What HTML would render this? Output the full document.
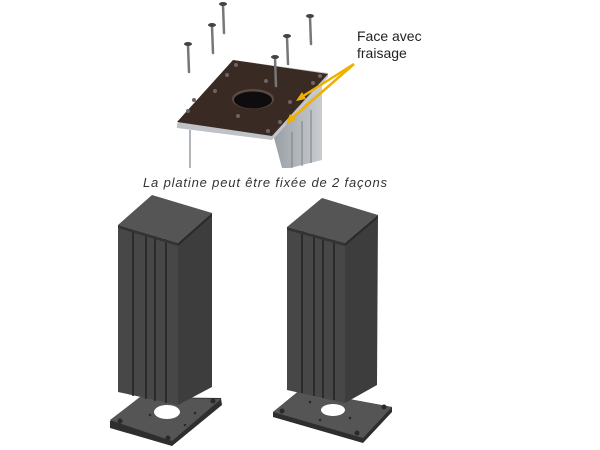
<!DOCTYPE html>
<html><head><style>
html,body{margin:0;padding:0;background:#fff;width:600px;height:450px;overflow:hidden}
svg{display:block}
</style></head><body>
<svg width="600" height="450" viewBox="0 0 600 450" xmlns="http://www.w3.org/2000/svg">
<defs>
<linearGradient id="col" x1="0" x2="1"><stop offset="0" stop-color="#9aa0a6"/><stop offset="1" stop-color="#c9cdd1"/></linearGradient>
</defs>
<!-- top assembly column -->
<polygon points="274,138 322,84 322,160 290,168 282,168" fill="url(#col)"/>
<line x1="292" y1="132" x2="292" y2="168" stroke="#7a7f85"/>
<line x1="302" y1="121" x2="302" y2="166" stroke="#7a7f85"/>
<line x1="311" y1="110" x2="311" y2="163" stroke="#7a7f85"/>
<line x1="190" y1="130" x2="190" y2="168" stroke="#b0b5ba" stroke-width="2"/>
<!-- plate -->
<polygon points="177,124 233,60 328,73 328,77 272,140 177,128" fill="#bfc3c7"/>
<polygon points="177,122 233,60 328,74 272,136" fill="#3a2a24"/>
<ellipse cx="253" cy="99" rx="21" ry="10" fill="#5a4a44"/>
<ellipse cx="253" cy="100" rx="19" ry="8.5" fill="#0e0c0c"/>
<g fill="#6e6460">
<circle cx="188" cy="111" r="2"/><circle cx="236" cy="65" r="2"/><circle cx="320" cy="76" r="2"/>
<circle cx="268" cy="131" r="2"/><circle cx="194" cy="100" r="2"/><circle cx="215" cy="91" r="2"/>
<circle cx="227" cy="75" r="2"/><circle cx="266" cy="81" r="2"/><circle cx="238" cy="116" r="2"/>
<circle cx="290" cy="102" r="2"/><circle cx="280" cy="122" r="2"/><circle cx="313" cy="83" r="2"/>
</g>
<!-- screws -->
<g stroke="#777" stroke-width="2.5" stroke-linecap="round">
<line x1="188" y1="45" x2="189" y2="72"/><line x1="212" y1="26" x2="213" y2="53"/>
<line x1="223" y1="5" x2="224" y2="33"/><line x1="310" y1="17" x2="311" y2="44"/>
<line x1="287" y1="37" x2="288" y2="64"/><line x1="275" y1="58" x2="276" y2="86"/>
</g>
<g fill="#444">
<ellipse cx="188" cy="44" rx="4" ry="2"/><ellipse cx="212" cy="25" rx="4" ry="2"/>
<ellipse cx="223" cy="4" rx="4" ry="2"/><ellipse cx="310" cy="16" rx="4" ry="2"/>
<ellipse cx="287" cy="36" rx="4" ry="2"/><ellipse cx="275" cy="57" rx="4" ry="2"/>
</g>
<!-- arrows -->
<g stroke="#f0b000" stroke-width="2.5" fill="#f0b000">
<line x1="354" y1="64" x2="300" y2="98"/><polygon points="296,101 302,92 306,99" stroke="none"/>
<line x1="354" y1="64" x2="291" y2="119"/><polygon points="286,124 290,114 296,120" stroke="none"/>
</g>
<text x="357" y="41" font-family="Liberation Sans, sans-serif" font-size="14" fill="#222">Face avec</text>
<text x="357" y="58" font-family="Liberation Sans, sans-serif" font-size="14" fill="#222">fraisage</text>
<text x="143" y="187" font-family="Liberation Sans, sans-serif" font-size="13" font-style="italic" fill="#333" textLength="244" lengthAdjust="spacing">La platine peut être fixée de 2 façons</text>

<!-- left pillar -->
<polygon points="110,421 140,397 221,398 222,405 172,446 110,428" fill="#2e2e2e"/>
<polygon points="110,420 140,397 221,399 172,441" fill="#555"/>
<ellipse cx="167" cy="412" rx="13" ry="7" fill="#fff"/>
<g fill="#2a2a2a"><circle cx="120" cy="421" r="2.5"/><circle cx="168" cy="438" r="2.5"/><circle cx="213" cy="401" r="2.5"/><circle cx="150" cy="415" r="1.3"/><circle cx="185" cy="425" r="1.3"/><circle cx="195" cy="413" r="1.3"/></g>
<polygon points="178,243 212,213 212,387 178,405" fill="#3d3d3d"/>
<polygon points="118,225 178,243 178,405 118,392" fill="#474747"/>
<g stroke="#222" stroke-width="1.5">
<line x1="133" y1="230" x2="133" y2="396"/><line x1="146" y1="234" x2="146" y2="399"/>
<line x1="155" y1="236" x2="155" y2="401"/><line x1="166" y1="239" x2="166" y2="403"/>
</g>
<polygon points="118,225 152,195 212,213 178,243" fill="#555"/>
<polygon points="118,225 178,243 178,246 118,228" fill="#333"/>
<polygon points="178,243 212,213 212,216 178,246" fill="#2a2a2a"/>
<!-- right pillar -->
<polygon points="273,412 300,390 392,407 392,412 363,443 273,417" fill="#2e2e2e"/>
<polygon points="273,412 300,390 392,407 363,438" fill="#555"/>
<ellipse cx="333" cy="410" rx="12" ry="6" fill="#fff"/>
<g fill="#2a2a2a"><circle cx="282" cy="411" r="2.5"/><circle cx="357" cy="433" r="2.5"/><circle cx="384" cy="407" r="2.5"/><circle cx="310" cy="402" r="1.3"/><circle cx="320" cy="420" r="1.3"/><circle cx="350" cy="418" r="1.3"/></g>
<polygon points="345,243 378,215 377,385 345,403" fill="#3d3d3d"/>
<polygon points="287,227 345,243 345,403 287,390" fill="#474747"/>
<g stroke="#222" stroke-width="1.5">
<line x1="302" y1="231" x2="302" y2="393"/><line x1="314" y1="234" x2="314" y2="396"/>
<line x1="323" y1="237" x2="323" y2="398"/><line x1="334" y1="240" x2="334" y2="400"/>
</g>
<polygon points="287,227 322,198 378,215 345,243" fill="#555"/>
<polygon points="287,227 345,243 345,246 287,230" fill="#333"/>
<polygon points="345,243 378,215 378,218 345,246" fill="#2a2a2a"/>
</svg>
</body></html>
